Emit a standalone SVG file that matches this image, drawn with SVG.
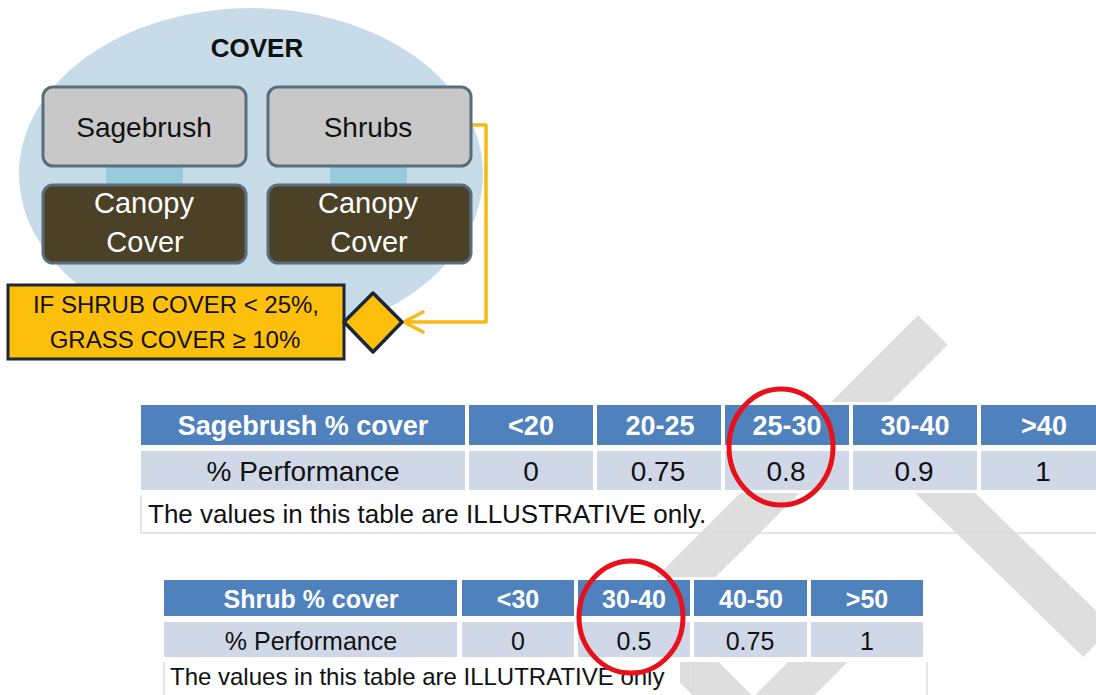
<svg xmlns="http://www.w3.org/2000/svg" width="1096" height="695" viewBox="0 0 1096 695">
<defs>
<style>
.t{font-family:"Liberation Sans",Arial,sans-serif}
.b{font-weight:bold}
.hd{fill:#4f81bd}
.rw{fill:#d0d8e8}
.wt{fill:#ffffff}
.bk{fill:#111111}
.gbox{fill:#c8c8c8;stroke:#5a6d7a;stroke-width:3}
.dbox{fill:#4a4127;stroke:#5a6d7a;stroke-width:3}
.wm{stroke:#dedede;stroke-width:42;fill:none;stroke-linecap:butt}
.rc{fill:none;stroke:#e8101a;stroke-width:5}
.bd{stroke:#dcdcdc;stroke-width:1.5;fill:none}
</style>
<marker id="chev" markerUnits="userSpaceOnUse" markerWidth="24" markerHeight="26" viewBox="0 0 24 26" refX="21" refY="13" orient="auto">
<path d="M2,3 L21,13 L2,23" fill="none" stroke="#f8b914" stroke-width="3.5" stroke-linecap="round" stroke-linejoin="round"/>
</marker>
</defs>
<rect width="1096" height="695" fill="#ffffff"/>

<g id="watermark">
<line class="wm" x1="933" y1="330" x2="600" y2="663"/>
<line class="wm" x1="860" y1="410" x2="1098" y2="642"/>
<line class="wm" x1="650" y1="623" x2="765" y2="738"/>
<line class="wm" x1="857" y1="623" x2="742" y2="738"/>
</g>

<g id="cover">
<ellipse cx="251" cy="174" rx="232" ry="166" fill="#c7dbe9"/>
<text class="t b" x="257" y="57" font-size="26" text-anchor="middle" fill="#111">COVER</text>
</g>

<g id="connectors">
<rect x="106" y="165" width="77" height="21" fill="#96cbdc"/>
<rect x="330" y="165" width="77" height="21" fill="#96cbdc"/>
<path d="M471,125 H486 V322 H404" fill="none" stroke="#f8b914" stroke-width="3.5" stroke-linejoin="round" marker-end="url(#chev)"/>
</g>

<g id="sagebrush">
<rect class="gbox" x="43" y="87" width="203" height="79" rx="10"/>
<text class="t" x="144" y="137" font-size="28" text-anchor="middle" fill="#111">Sagebrush</text>
</g>
<g id="shrubs">
<rect class="gbox" x="268" y="87" width="203" height="79" rx="10"/>
<text class="t" x="368" y="137" font-size="28" text-anchor="middle" fill="#111">Shrubs</text>
</g>
<g id="canopy1">
<rect class="dbox" x="43" y="185" width="203" height="78" rx="10"/>
<text class="t" x="144" y="213" font-size="29" text-anchor="middle" fill="#fff">Canopy</text>
<text class="t" x="145" y="252" font-size="29" text-anchor="middle" fill="#fff">Cover</text>
</g>
<g id="canopy2">
<rect class="dbox" x="268" y="185" width="203" height="78" rx="10"/>
<text class="t" x="368" y="213" font-size="29" text-anchor="middle" fill="#fff">Canopy</text>
<text class="t" x="369" y="252" font-size="29" text-anchor="middle" fill="#fff">Cover</text>
</g>

<g id="condition">
<rect x="8" y="285" width="336" height="74" fill="#fcbf0c" stroke="#1b2638" stroke-width="3"/>
<text class="t" x="176" y="313" font-size="24" text-anchor="middle" fill="#111">IF SHRUB COVER &lt; 25%,</text>
<text class="t" x="175" y="348" font-size="24" text-anchor="middle" fill="#111">GRASS COVER ≥ 10%</text>
</g>
<g id="decision">
<polygon points="373,293 402,322 373,352 344,322" fill="#fcbf0c" stroke="#1b2638" stroke-width="3.5" stroke-linejoin="round"/>
</g>

<g id="table1">
<rect x="138" y="402" width="958" height="91" fill="#ffffff"/>
<rect class="hd" x="141" y="405" width="324" height="40"/>
<rect class="hd" x="469" y="405" width="124" height="40"/>
<rect class="hd" x="597" y="405" width="124" height="40"/>
<rect class="hd" x="725" y="405" width="124" height="40"/>
<rect class="hd" x="853" y="405" width="124" height="40"/>
<rect class="hd" x="981" y="405" width="119" height="40"/>
<rect class="rw" x="141" y="451" width="324" height="39"/>
<rect class="rw" x="469" y="451" width="124" height="39"/>
<rect class="rw" x="597" y="451" width="124" height="39"/>
<rect class="rw" x="725" y="451" width="124" height="39"/>
<rect class="rw" x="853" y="451" width="124" height="39"/>
<rect class="rw" x="981" y="451" width="119" height="39"/>
<g class="t b" font-size="27" fill="#fff" text-anchor="middle">
<text x="303" y="435">Sagebrush % cover</text>
<text x="531" y="435">&lt;20</text>
<text x="660" y="435">20-25</text>
<text x="787" y="435">25-30</text>
<text x="915" y="435">30-40</text>
<text x="1044" y="435">&gt;40</text>
</g>
<g class="t" font-size="28" fill="#111" text-anchor="middle">
<text x="303" y="481">% Performance</text>
<text x="531" y="481">0</text>
<text x="658" y="481">0.75</text>
<text x="786" y="481">0.8</text>
<text x="914" y="481">0.9</text>
<text x="1043" y="481">1</text>
</g>
<path class="bd" d="M141,495 V533 H1096"/>
<text class="t" x="148" y="523" font-size="26" fill="#111">The values in this table are ILLUSTRATIVE only.</text>
<ellipse class="rc" cx="781" cy="447" rx="52" ry="58"/>
</g>

<g id="table2">
<rect x="160" y="577" width="767" height="85" fill="#ffffff"/>
<rect x="160" y="662" width="520" height="33" fill="#ffffff"/>
<rect class="hd" x="164" y="580" width="293" height="36"/>
<rect class="hd" x="462" y="580" width="112" height="36"/>
<rect class="hd" x="578" y="580" width="112" height="36"/>
<rect class="hd" x="694" y="580" width="113" height="36"/>
<rect class="hd" x="811" y="580" width="112" height="36"/>
<rect class="rw" x="164" y="622" width="293" height="35"/>
<rect class="rw" x="462" y="622" width="112" height="35"/>
<rect class="rw" x="578" y="622" width="112" height="35"/>
<rect class="rw" x="694" y="622" width="113" height="35"/>
<rect class="rw" x="811" y="622" width="112" height="35"/>
<g class="t b" font-size="25" fill="#fff" text-anchor="middle">
<text x="311" y="608">Shrub % cover</text>
<text x="518" y="608">&lt;30</text>
<text x="634" y="608">30-40</text>
<text x="751" y="608">40-50</text>
<text x="867" y="608">&gt;50</text>
</g>
<g class="t" font-size="25" fill="#111" text-anchor="middle">
<text x="311" y="650">% Performance</text>
<text x="518" y="650">0</text>
<text x="634" y="650">0.5</text>
<text x="750" y="650">0.75</text>
<text x="867" y="650">1</text>
</g>
<path class="bd" d="M164,662 V695 M693,662 V695 M810,662 V695 M927,662 V695" stroke="#e6e6e6"/>
<text class="t" x="170" y="685" font-size="24" fill="#111">The values in this table are ILLUTRATIVE only</text>
<ellipse class="rc" cx="631" cy="617" rx="52" ry="56"/>
</g>
</svg>
